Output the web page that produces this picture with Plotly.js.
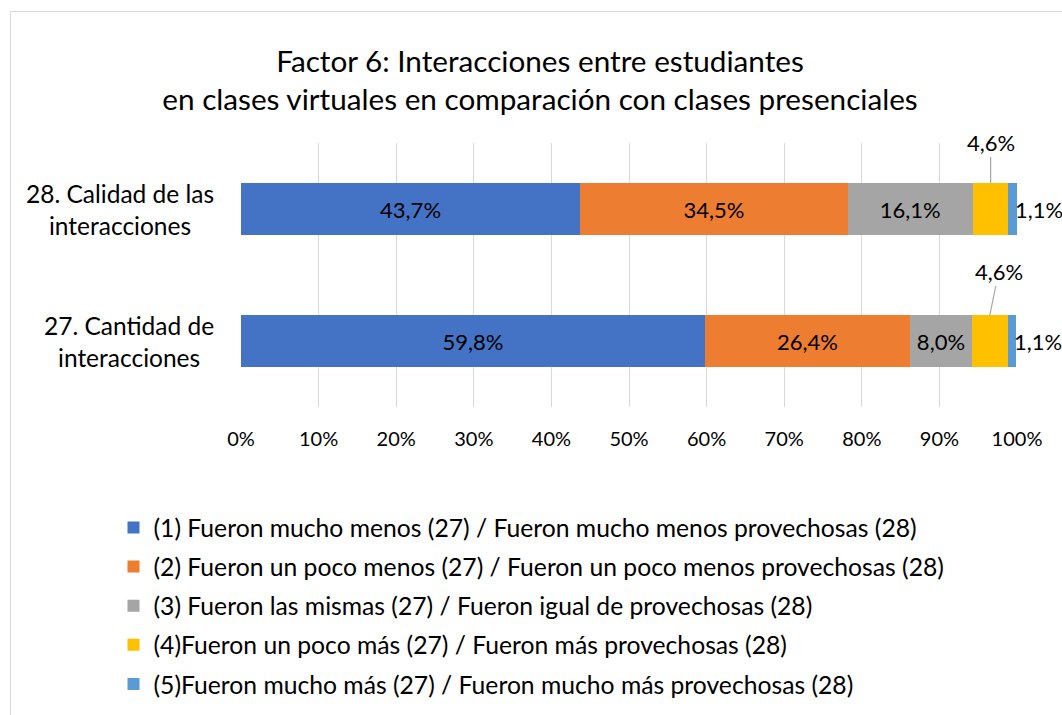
<!DOCTYPE html>
<html>
<head>
<meta charset="utf-8">
<script src="https://cdn.plot.ly/plotly-3.0.1.min.js"></script>
<style>
  html, body { margin: 0; padding: 0; background: #fff; overflow: hidden; }
  #chart { width: 1062px; height: 715px; }
  #frame { position: absolute; left: 10px; top: 11px; width: 1200px; height: 900px;
           border-left: 1px solid #d9d9d9; border-top: 1px solid #d9d9d9; pointer-events: none; }
</style>
</head>
<body>
<div id="chart"></div>
<div id="frame"></div>
<script>
// ---- data ----
const categories = ["27. Cantidad de interacciones", "28. Calidad de las interacciones"];
const categoryLabels = ["27. Cantidad de<br>interacciones", "28. Calidad de las<br>interacciones"];
const seriesNames = [
  "(1) Fueron mucho menos (27) / Fueron mucho menos provechosas (28)",
  "(2) Fueron un poco menos (27) / Fueron un poco menos provechosas (28)",
  "(3) Fueron las mismas (27) / Fueron igual de provechosas (28)",
  "(4)Fueron un poco más (27) / Fueron más provechosas (28)",
  "(5)Fueron mucho más (27) / Fueron mucho más provechosas (28)"
];
const muchoMenos   = [59.8, 43.7];
const pocoMenos    = [26.4, 34.5];
const mismas       = [8.0, 16.1];
const pocoMas      = [4.6, 4.6];
const muchoMas     = [1.1, 1.1];
const colors = ["#4472C4", "#ED7D31", "#A5A5A5", "#FFC000", "#5B9BD5"];
const xTickVals = [0,10,20,30,40,50,60,70,80,90,100];
const xTickText = ["0%","10%","20%","30%","40%","50%","60%","70%","80%","90%","100%"];

const series = [muchoMenos, pocoMenos, mismas, pocoMas, muchoMas];
const insideLabel = [true, true, true, false, false];
const FONT = "Lato, 'Open Sans', sans-serif";
const fmt = v => v.toFixed(1).replace('.', ',') + '%';
const LABEL_SIZE = 22;

const traces = series.map((vals, i) => ({
  type: 'bar',
  orientation: 'h',
  name: seriesNames[i],
  legendgroup: 'g' + i,
  y: categories,
  x: vals,
  marker: { color: colors[i] },
  text: insideLabel[i] ? vals.map(fmt) : vals.map(() => ''),
  textposition: insideLabel[i] ? 'inside' : 'none',
  insidetextanchor: 'middle',
  textangle: 0,
  constraintext: 'none',
  textfont: { family: FONT, size: LABEL_SIZE, color: '#000' },
  hoverinfo: 'x+name'
}));

// annotations: category labels, 4,6% callouts, 1,1% labels
const annotations = [];
categories.forEach((c, k) => {
  annotations.push({
    xref: 'paper', x: -0.032, y: c, yref: 'y', xanchor: 'right', yanchor: 'middle',
    align: 'center', showarrow: false, text: categoryLabels[k],
    font: { family: FONT, size: 24.5, color: '#000' }
  });
  const before = muchoMenos[k] + pocoMenos[k] + mismas[k];
  const total = before + pocoMas[k] + muchoMas[k];
  annotations.push({
    x: before + pocoMas[k] / 2, y: c, xref: 'x', yref: 'y',
    yshift: 26, showarrow: true, arrowhead: 0, arrowwidth: 1.2, arrowcolor: '#a6a6a6',
    ax: k === 0 ? 9 : 0, ay: k === 0 ? -44 : -41,
    text: fmt(pocoMas[k]), font: { family: FONT, size: LABEL_SIZE, color: '#000' }
  });
  annotations.push({
    x: total, y: c, xref: 'x', yref: 'y', xanchor: 'left', yanchor: 'middle',
    xshift: -3, borderpad: 0, showarrow: false, text: fmt(muchoMas[k]),
    font: { family: FONT, size: LABEL_SIZE, color: '#000' }
  });
});

const layout = {
  width: 1062, height: 715,
  paper_bgcolor: '#fff', plot_bgcolor: '#fff',
  font: { family: FONT, color: '#000' },
  margin: { l: 241, r: 45, t: 143, b: 308, autoexpand: false },
  title: {
    text: 'Factor 6: Interacciones entre estudiantes<br>en clases virtuales en comparación con clases presenciales',
    font: { family: FONT, size: 29.7, color: '#000' },
    xref: 'container', x: 0.5085, xanchor: 'center',
    yref: 'container', y: 0.9, yanchor: 'middle'
  },
  barmode: 'stack',
  bargap: 0.606,
  xaxis: {
    range: [0, 100], tickvals: xTickVals, ticktext: xTickText,
    showgrid: true, gridcolor: '#d9d9d9', gridwidth: 1,
    zeroline: false, showline: false, ticks: '',
    ticklabelstandoff: 18,
    tickfont: { family: FONT, size: 20, color: '#000' },
    fixedrange: true
  },
  yaxis: {
    categoryorder: 'array', categoryarray: categories,
    range: [-0.5, 1.5], autorange: false,
    showticklabels: false, showgrid: false, zeroline: false, showline: false,
    fixedrange: true
  },
  showlegend: true,
  legend: {
    orientation: 'v', traceorder: 'grouped', tracegroupgap: 4,
    x: -0.1643, xanchor: 'left', y: -0.371, yanchor: 'top',
    font: { family: FONT, size: 24.7, color: '#000' },
    bgcolor: 'rgba(0,0,0,0)', itemclick: false, itemdoubleclick: false
  },
  annotations: annotations
};

Plotly.newPlot('chart', traces, layout, { displayModeBar: false });
</script>
</body>
</html>
